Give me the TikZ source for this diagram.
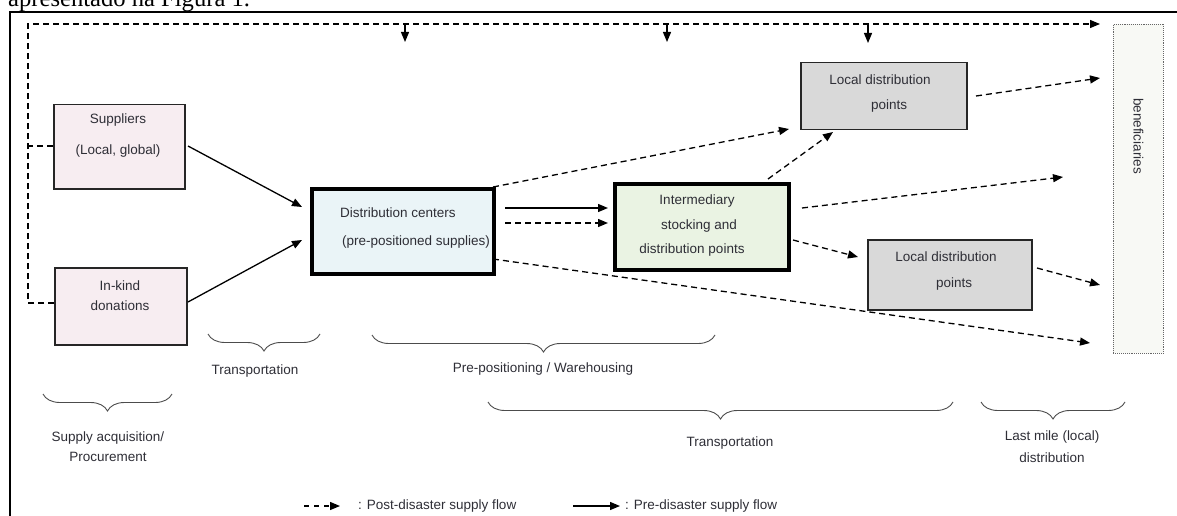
\documentclass[tikz,border=0pt]{standalone}
\usepackage{fontspec}
\setmainfont{Liberation Sans}
\newfontfamily\capserif{Liberation Serif}
\usetikzlibrary{arrows.meta,decorations.pathreplacing}
\definecolor{pinkfill}{HTML}{F7EDF1}
\definecolor{bluefill}{HTML}{EAF4F7}
\definecolor{greenfill}{HTML}{EAF3E3}
\definecolor{greyfill}{HTML}{D9D9D9}
\definecolor{benfill}{HTML}{F8F9F5}
\definecolor{txt}{HTML}{2E2E36}
\tikzset{
  plainbox/.style={draw=black!85, line width=1.5pt, inner sep=0pt, anchor=north west},
  thickbox/.style={draw=black, line width=3.5pt, inner sep=0pt, anchor=north west},
  lbl/.style={font=\fontsize{13.5}{15}\selectfont, text=txt, inner sep=0pt, text height=9.6pt, text depth=2.8pt},
  tip/.style={-{Triangle[length=10pt,width=8pt]}},
  solidflow/.style={tip, line width=1.3pt, black},
  dashflow/.style={tip, line width=1.3pt, black, dash pattern=on 6pt off 4pt},
  topflow/.style={line width=1.2pt, black, dash pattern=on 6pt off 4pt},
  curly/.style={decorate, decoration={brace, mirror, amplitude=17pt}, line width=0.9pt, black!70}
}
\begin{document}
\begin{tikzpicture}[x=1pt,y=-1pt]
\useasboundingbox (0,0) rectangle (1177,516);
\begin{scope}
\clip (0,0) rectangle (1177,516);
\node[anchor=base west, inner sep=0pt, font=\capserif\fontsize{24.6}{28}\selectfont] (caption) at (8,6.5) {apresentado na Figura 1.};
\end{scope}
% frame
\draw[line width=2pt] (10,517) -- (10,12) -- (1178,12);

% boxes
\node[plainbox, fill=pinkfill, minimum width=131pt, minimum height=84pt] (sup) at (53,104) {};
\node[plainbox, fill=pinkfill, minimum width=132pt, minimum height=77pt] (ink) at (54,267) {};
\node[thickbox, fill=bluefill, minimum width=182pt, minimum height=85pt] (dc) at (310,187) {};
\node[thickbox, fill=greenfill, minimum width=174pt, minimum height=86pt] (isdp) at (613,182) {};
\node[plainbox, fill=greyfill, minimum width=166pt, minimum height=67pt] (ldpa) at (800,62) {};
\node[plainbox, fill=greyfill, minimum width=164pt, minimum height=70pt] (ldpb) at (867,239) {};
\node[draw=black!60, densely dotted, line width=0.9pt, fill=benfill, inner sep=0pt, anchor=north west, minimum width=50pt, minimum height=329pt] (ben) at (1113,24) {};

% box texts
\node[lbl] (supa) at (118,120) {Suppliers};
\node[lbl] (supb) at (118,151) {(Local, global)};
\node[lbl] (inka) at (120,287) {In-kind};
\node[lbl] (inkb) at (120,307) {donations};
\node[lbl, anchor=west] (dca) at (340,214) {Distribution centers};
\node[lbl, anchor=west] (dcb) at (342,242) {(pre-positioned supplies)};
\node[lbl] (isa) at (697,201) {Intermediary};
\node[lbl] (isb) at (699,226) {stocking and};
\node[lbl] (isc) at (692,250) {distribution points};
\node[lbl] (lda) at (880,81) {Local distribution};
\node[lbl] (ldb) at (889,106) {points};
\node[lbl] (lba) at (946,258) {Local distribution};
\node[lbl] (lbb) at (954,284) {points};
\node[lbl, rotate=-90] (bent) at (1137,136) {beneficiaries};

% top dashed feedback
\coordinate (tl) at (28,24);
\coordinate (tr) at (1100,24);
\coordinate (lsup) at (28,146);
\coordinate (link) at (28,303);
\draw[topflow] (sup.west |- lsup) -- (lsup);
\draw[topflow, tip] (ink.west |- link) -- (link) -- (tl) -- (tr);
\coordinate (da) at (405,24); \coordinate (dae) at (405,42);
\coordinate (db) at (667,24); \coordinate (dbe) at (667,42);
\coordinate (dd) at (868,24); \coordinate (dde) at (868,43);
\draw[line width=1.2pt, tip] (da) -- (dae);
\draw[line width=1.2pt, tip] (db) -- (dbe);
\draw[line width=1.2pt, tip] (dd) -- (dde);

% flows
\coordinate (s1) at (188,146); \coordinate (e1) at (302,207);
\coordinate (s2) at (188,302); \coordinate (e2) at (302,240);
\coordinate (s3) at (505,208); \coordinate (e3) at (608,208);
\coordinate (s4) at (505,223); \coordinate (e4) at (608,223);
\coordinate (s5) at (493,187); \coordinate (e5) at (789,129);
\coordinate (s6) at (768,179); \coordinate (e6) at (833,132);
\coordinate (s7) at (976,96);  \coordinate (e7) at (1100,78);
\coordinate (s8) at (802,208); \coordinate (e8) at (1063,177);
\coordinate (s9) at (793,240); \coordinate (e9) at (858,257);
\coordinate (s10) at (1037,268); \coordinate (e10) at (1100,285);
\coordinate (s11) at (493,259); \coordinate (e11) at (1090,343);
\draw[solidflow] (s1) -- (e1);
\draw[solidflow] (s2) -- (e2);
\draw[solidflow] (s3) -- (e3);
\draw[dashflow] (s4) -- (e4);
\draw[dashflow] (s5) -- (e5);
\draw[dashflow] (s6) -- (e6);
\draw[dashflow] (s7) -- (e7);
\draw[dashflow] (s8) -- (e8);
\draw[dashflow] (s9) -- (e9);
\draw[dashflow] (s10) -- (e10);
\draw[dashflow] (s11) -- (e11);

% braces
\coordinate (b1l) at (43,394); \coordinate (b1r) at (172,394);
\coordinate (b2l) at (208,334); \coordinate (b2r) at (320,334);
\coordinate (b3l) at (372,335); \coordinate (b3r) at (715,335);
\coordinate (b4l) at (488,402); \coordinate (b4r) at (953,402);
\coordinate (b5l) at (981,402); \coordinate (b5r) at (1125,402);
\draw[curly] (b1l) -- (b1r);
\draw[curly] (b2l) -- (b2r);
\draw[curly] (b3l) -- (b3r);
\draw[curly] (b4l) -- (b4r);
\draw[curly] (b5l) -- (b5r);

\node[lbl] (sa) at (108,438) {Supply acquisition/};
\node[lbl] (sb) at (108,458) {Procurement};
\node[lbl] (tra) at (255,371) {Transportation};
\node[lbl] (pp) at (543,369) {Pre-positioning / Warehousing};
\node[lbl] (trb) at (730,443) {Transportation};
\node[lbl] (lma) at (1052,437) {Last mile (local)};
\node[lbl] (lmb) at (1052,459) {distribution};

% legend
\coordinate (l1s) at (304,506); \coordinate (l1e) at (340,506);
\coordinate (l2s) at (573,506); \coordinate (l2e) at (620,506);
\draw[dashflow, dash pattern=on 5pt off 5pt] (l1s) -- (l1e);
\node[lbl, anchor=west] (lt1) at (358,506) {: Post-disaster supply flow};
\draw[solidflow] (l2s) -- (l2e);
\node[lbl, anchor=west] (lt2) at (625,506) {: Pre-disaster supply flow};
\end{tikzpicture}
\end{document}
